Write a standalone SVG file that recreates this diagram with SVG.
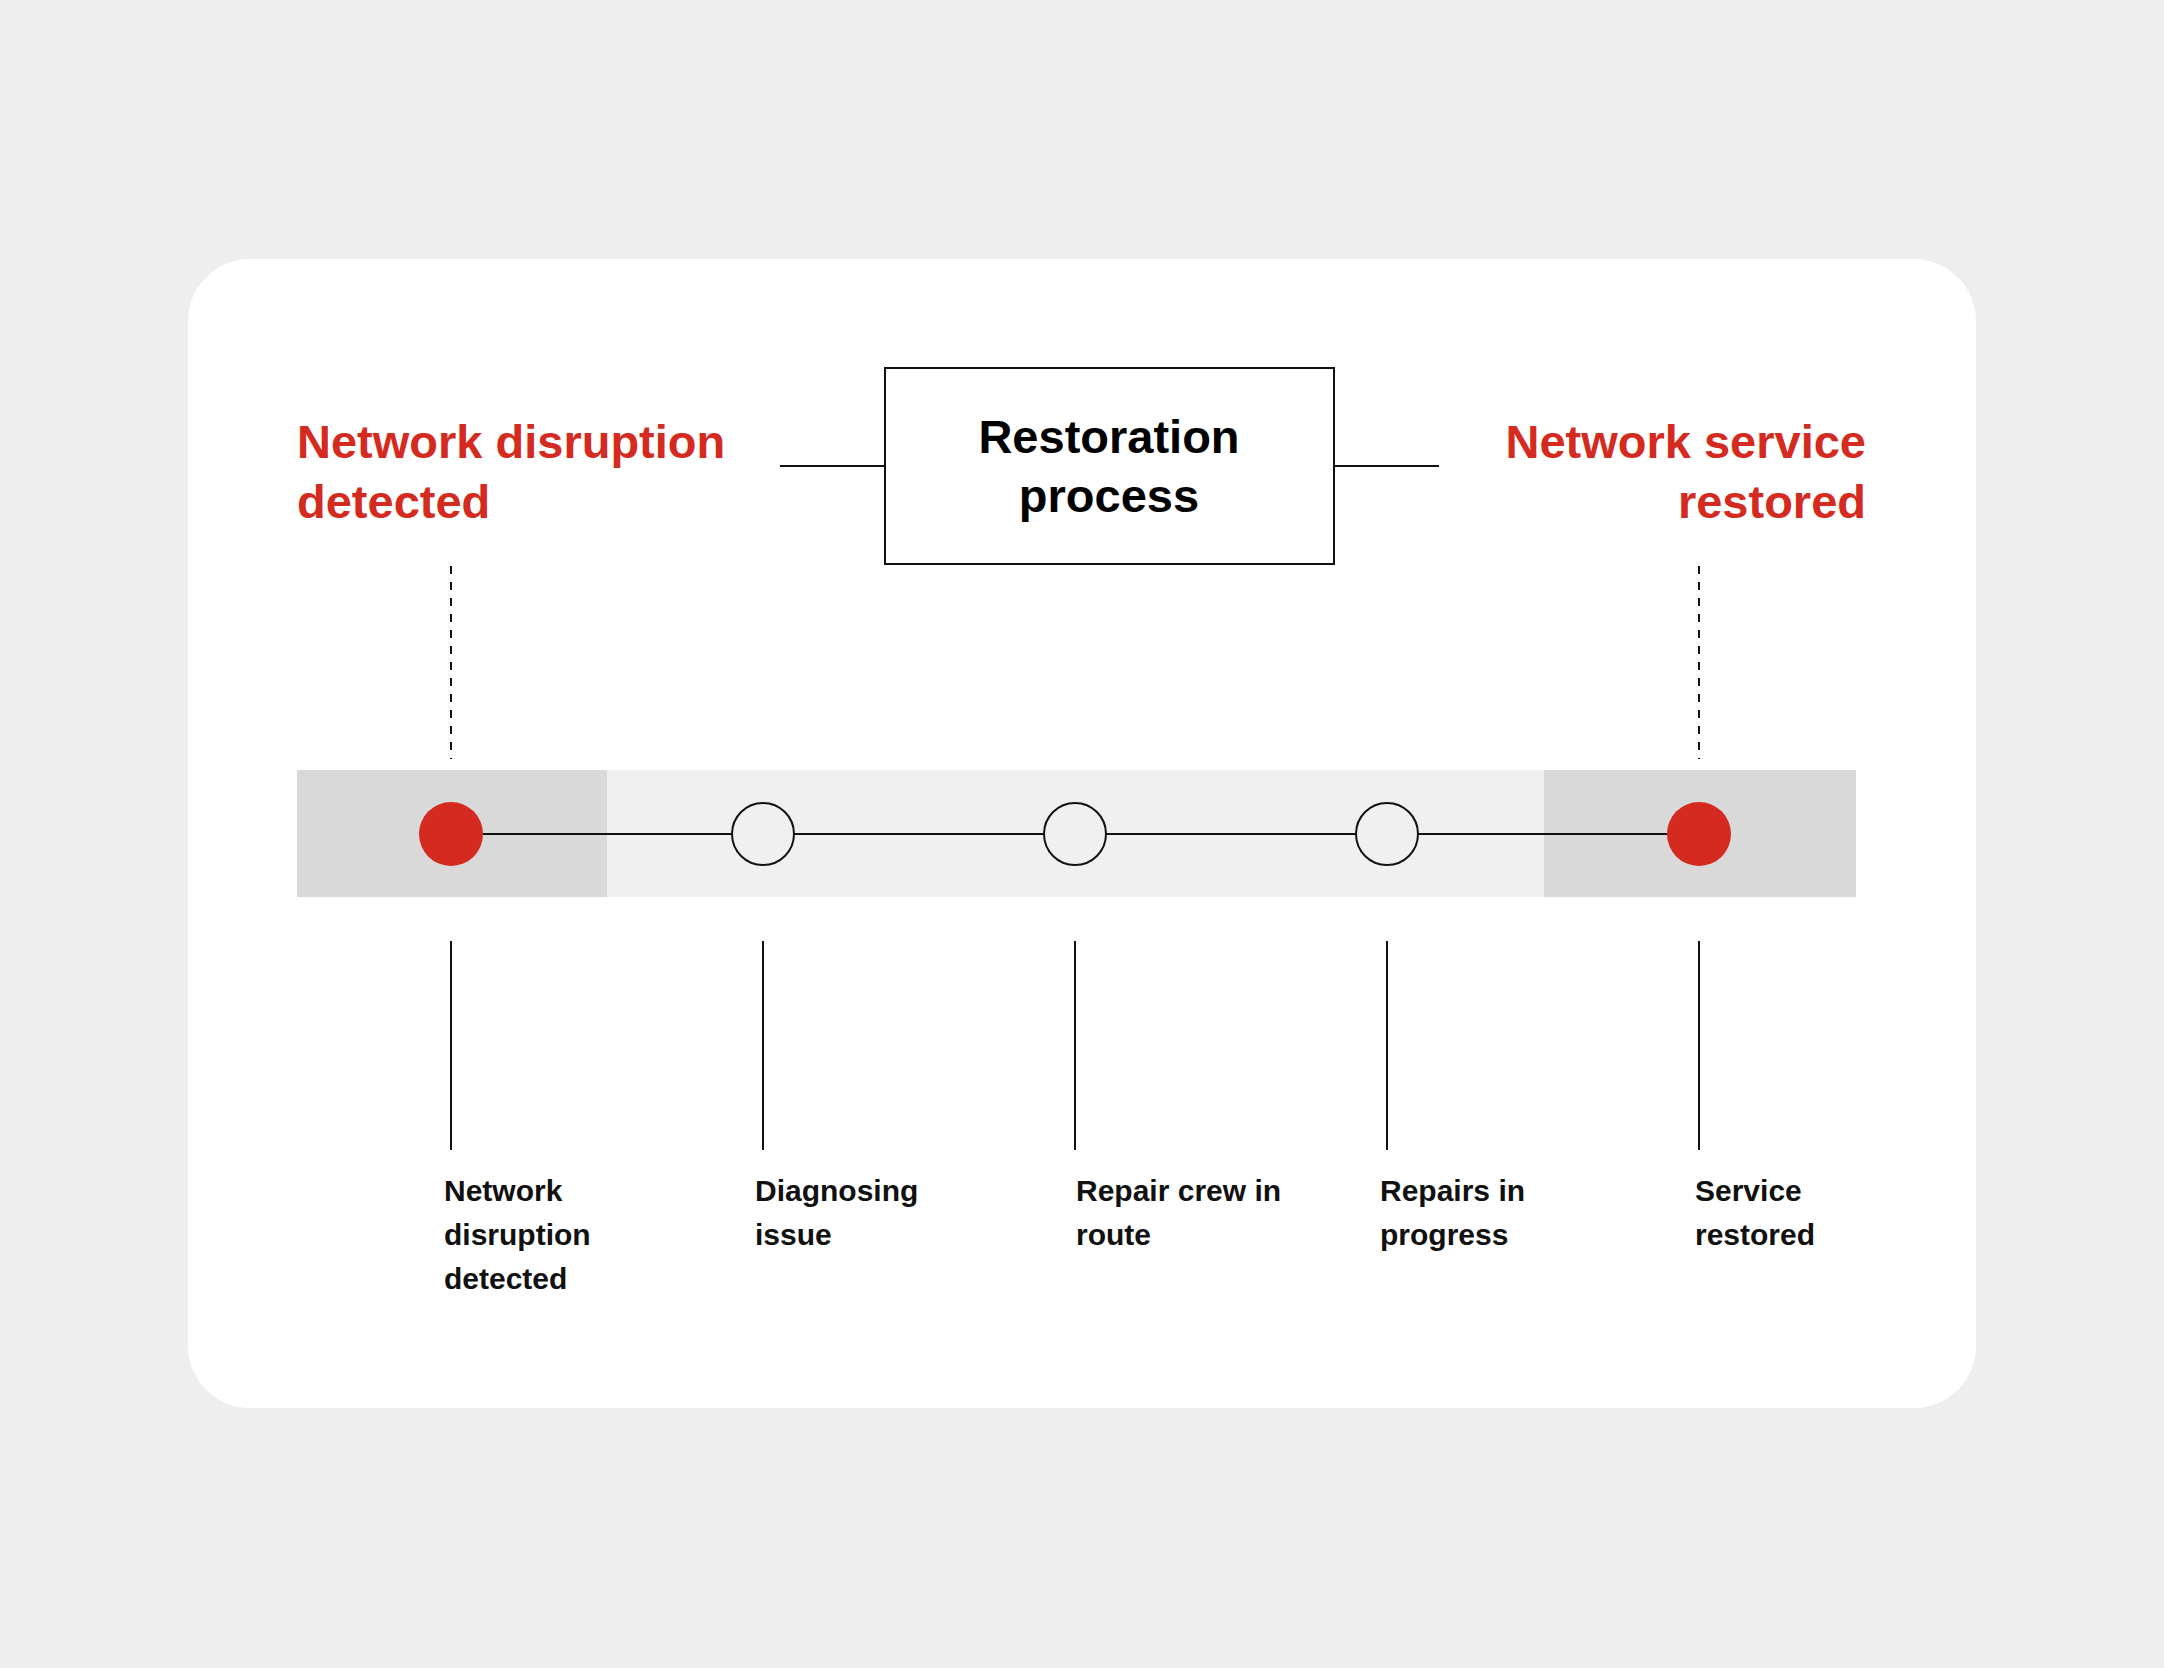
<svg xmlns="http://www.w3.org/2000/svg" width="2164" height="1668" viewBox="0 0 2164 1668">
<style>
.t{font-family:"Liberation Sans",Arial,sans-serif;font-weight:bold}
.red{fill:#d42a20;font-size:47px}
.lab{font-size:30px;fill:#111}
.ln{stroke:#111;stroke-width:2;fill:none}
.open{fill:#f0f0f0;stroke:#111;stroke-width:2}
.fill{fill:#d42a20}
</style>
<rect width="2164" height="1668" fill="#eeeeee"/>
<rect x="188" y="259" width="1788" height="1149" rx="62" fill="#fff"/>
<g id="band">
<rect x="297" y="770" width="1559" height="127" fill="#f0f0f0"/>
<rect x="297" y="770" width="310" height="127" fill="#d9d9d9"/>
<rect x="1544" y="770" width="312" height="127" fill="#d9d9d9"/>
</g>
<g id="connectors">
<line class="ln" x1="780" y1="466" x2="885" y2="466"/>
<line class="ln" x1="1334" y1="466" x2="1439" y2="466"/>
<line class="ln" x1="451" y1="566" x2="451" y2="759" stroke-dasharray="8,8"/>
<line class="ln" x1="1699" y1="566" x2="1699" y2="759" stroke-dasharray="8,8"/>
<line class="ln" x1="451" y1="834" x2="1699" y2="834"/>
<line class="ln" x1="451" y1="941" x2="451" y2="1150"/>
<line class="ln" x1="763" y1="941" x2="763" y2="1150"/>
<line class="ln" x1="1075" y1="941" x2="1075" y2="1150"/>
<line class="ln" x1="1387" y1="941" x2="1387" y2="1150"/>
<line class="ln" x1="1699" y1="941" x2="1699" y2="1150"/>
</g>
<g id="box">
<rect x="885" y="368" width="449" height="196" fill="#fff" stroke="#111" stroke-width="2"/>
<text class="t" x="1109" y="453" font-size="47" text-anchor="middle">Restoration</text>
<text class="t" x="1109" y="512" font-size="47" text-anchor="middle">process</text>
</g>
<g id="start-title"><text class="t red" x="297" y="458">Network disruption</text><text class="t red" x="297" y="518">detected</text></g>
<g id="end-title"><text class="t red" x="1866" y="458" text-anchor="end">Network service</text><text class="t red" x="1866" y="518" text-anchor="end">restored</text></g>
<g id="n1"><circle class="fill" cx="451" cy="834" r="32"/><text class="t lab" x="444" y="1201">Network</text><text class="t lab" x="444" y="1245">disruption</text><text class="t lab" x="444" y="1289">detected</text></g>
<g id="n2"><circle class="open" cx="763" cy="834" r="31"/><text class="t lab" x="755" y="1201">Diagnosing</text><text class="t lab" x="755" y="1245">issue</text></g>
<g id="n3"><circle class="open" cx="1075" cy="834" r="31"/><text class="t lab" x="1076" y="1201">Repair crew in</text><text class="t lab" x="1076" y="1245">route</text></g>
<g id="n4"><circle class="open" cx="1387" cy="834" r="31"/><text class="t lab" x="1380" y="1201">Repairs in</text><text class="t lab" x="1380" y="1245">progress</text></g>
<g id="n5"><circle class="fill" cx="1699" cy="834" r="32"/><text class="t lab" x="1695" y="1201">Service</text><text class="t lab" x="1695" y="1245">restored</text></g>
</svg>
